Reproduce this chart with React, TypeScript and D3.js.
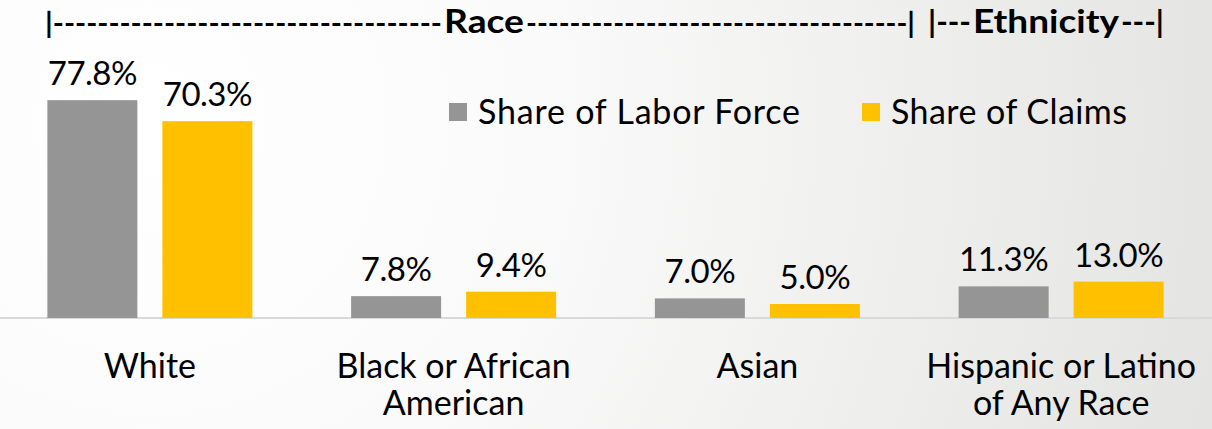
import React from "react";
import * as d3 from "d3";

const categories: string[][] = [
  ["White"],
  ["Black or African", "American"],
  ["Asian"],
  ["Hispanic or Latino", "of Any Race"],
];
const seriesNames = ["Share of Labor Force", "Share of Claims"];
const laborForce = [77.8, 7.8, 7.0, 11.3];
const claims = [70.3, 9.4, 5.0, 13.0];
const colors = ["#959595", "#FFC000"];
const titleParts = [
  "|" + "-".repeat(35),
  "Race",
  "-".repeat(35) + "|",
  "|---",
  "Ethnicity",
  "---|",
];

const W = 1212;
const H = 429;
const FONT = "Lato, 'Open Sans', sans-serif";

export default function App() {
  const keys = categories.map((c) => c.join(" "));
  const x = d3.scaleBand<string>().domain(keys).range([-2, 1213]);
  const xs = d3
    .scaleBand<string>()
    .domain(seriesNames)
    .range([-102.5, 102.5])
    .paddingInner(25 / 115);
  const y = d3.scaleLinear().domain([0, 80]).range([318, 94]);
  const series = [laborForce, claims];
  const titleSpans = [
    [45, 442],
    [444, 524],
    [526, 915],
    [928, 971],
    [973, 1119],
    [1121, 1164],
  ];
  const titleSizes = [28, 32, 28, 30, 32, 30];

  return (
    <svg
      width={W}
      height={H}
      style={{ position: "absolute", left: 0, top: 0 }}
      fontFamily={FONT}
    >
      <defs>
        <radialGradient
          id="bg"
          gradientUnits="userSpaceOnUse"
          cx={150}
          cy={120}
          r={1150}
        >
          <stop offset="0" stopColor="#ffffff" />
          <stop offset="0.35" stopColor="#fafafa" />
          <stop offset="1" stopColor="#e2e2e0" />
        </radialGradient>
      </defs>
      <rect x={0} y={0} width={W} height={H} fill="url(#bg)" />

      {titleParts.map((t, i) => (
        <text
          key={i}
          x={titleSpans[i][0]}
          y={33}
          fontSize={titleSizes[i]}
          fontWeight="bold"
          fill="#000"
          textLength={titleSpans[i][1] - titleSpans[i][0]}
          lengthAdjust="spacingAndGlyphs"
        >
          {t}
        </text>
      ))}

      {/* baseline */}
      <line x1={0} x2={W} y1={y(0)} y2={y(0)} stroke="#d9d9d9" strokeWidth={2} />

      {keys.map((k, i) => {
        const cx = (x(k) ?? 0) + x.bandwidth() / 2;
        return (
          <g key={k}>
            {series.map((vals, si) => {
              const bx = cx + (xs(seriesNames[si]) ?? 0);
              const v = vals[i];
              return (
                <g key={si}>
                  <rect
                    x={bx}
                    y={y(v)}
                    width={xs.bandwidth()}
                    height={y(0) - y(v)}
                    fill={colors[si]}
                  />
                  <text
                    x={bx + xs.bandwidth() / 2}
                    y={y(v) - 15}
                    textAnchor="middle"
                    fontSize={33}
                    letterSpacing={-0.5}
                    fill="#000"
                  >
                    {v.toFixed(1) + "%"}
                  </text>
                </g>
              );
            })}
            {categories[i].map((line, li) => (
              <text
                key={li}
                x={cx}
                y={378 + li * 37}
                textAnchor="middle"
                fontSize={34}
                fill="#000"
              >
                {line}
              </text>
            ))}
          </g>
        );
      })}

      {/* legend */}
      {[
        { x: 449, w: 322, label: seriesNames[0], c: colors[0] },
        { x: 862, w: 236, label: seriesNames[1], c: colors[1] },
      ].map((l) => (
        <g key={l.label}>
          <rect x={l.x} y={103} width={18} height={18} fill={l.c} />
          <text
            x={l.x + 29}
            y={124}
            fontSize={34}
            fill="#000"
            textLength={l.w}
            lengthAdjust="spacing"
          >
            {l.label}
          </text>
        </g>
      ))}
    </svg>
  );
}
